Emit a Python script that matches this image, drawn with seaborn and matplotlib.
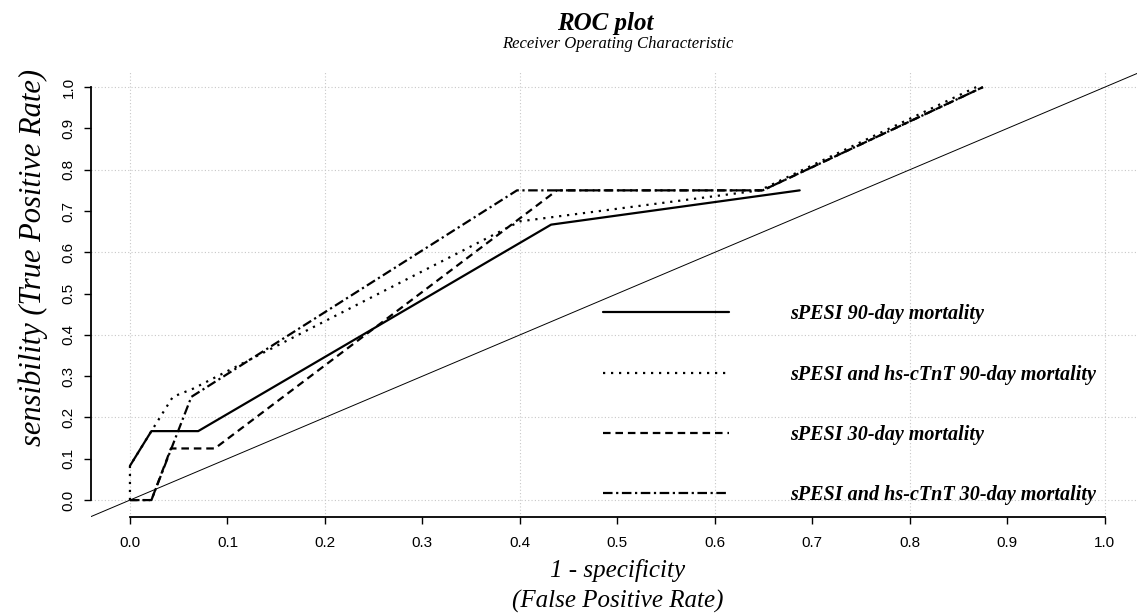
import matplotlib
matplotlib.use("Agg")
import matplotlib.pyplot as plt
import numpy as np
import seaborn as sns
from matplotlib import font_manager
from matplotlib.font_manager import FontProperties

# ROC curves (1 - specificity, sensitivity)
fpr_spesi_90 = [0.0, 0.022, 0.070, 0.432, 0.687]
tpr_spesi_90 = [0.083, 0.167, 0.167, 0.667, 0.750]

fpr_combo_90 = [0.0, 0.0, 0.022, 0.044, 0.065, 0.400, 0.646, 0.868]
tpr_combo_90 = [0.0, 0.083, 0.167, 0.250, 0.270, 0.675, 0.750, 1.000]

fpr_spesi_30 = [0.0, 0.022, 0.042, 0.087, 0.438, 0.649, 0.875]
tpr_spesi_30 = [0.0, 0.0, 0.125, 0.125, 0.750, 0.750, 1.000]

fpr_combo_30 = [0.0, 0.022, 0.063, 0.397, 0.649, 0.875]
tpr_combo_30 = [0.0, 0.0, 0.250, 0.750, 0.750, 1.000]

labels = [
    "sPESI 90-day mortality",
    "sPESI and hs-cTnT 90-day mortality",
    "sPESI 30-day mortality",
    "sPESI and hs-cTnT 30-day mortality",
]
tick_values = [0.0, 0.1, 0.2, 0.3, 0.4, 0.5, 0.6, 0.7, 0.8, 0.9, 1.0]
grid_values = [0.0, 0.2, 0.4, 0.6, 0.8, 1.0]

installed = {f.name for f in font_manager.fontManager.ttflist}
sans = "Liberation Sans Narrow" if "Liberation Sans Narrow" in installed else "Liberation Sans"
serif = "Liberation Serif"

sns.set_style("white")
plt.rcParams["font.family"] = [serif, "DejaVu Serif"]
plt.rcParams["text.color"] = "black"

fig = plt.figure(figsize=(11.37, 6.15), dpi=100)
ax = fig.add_axes([0.080, 0.160, 0.926, 0.7252])

series = [
    (fpr_spesi_90, tpr_spesi_90, "-"),
    (fpr_combo_90, tpr_combo_90, (0, (1, 2.6))),
    (fpr_spesi_30, tpr_spesi_30, (0, (3.4, 2.2))),
    (fpr_combo_30, tpr_combo_30, (0, (4.3, 1.6, 1, 1.6))),
]
handles = []
for (x, y, ls), lab in zip(series, labels):
    sns.lineplot(x=x, y=y, sort=False, estimator=None, color="black",
                 linewidth=1.6, linestyle=ls, legend=False, ax=ax)
    handles.append(ax.get_lines()[-1])

# chance diagonal
ax.axline((0, 0), slope=1, color="black", linewidth=0.7)

ax.set_xlim(-0.04, 1.04)
ax.set_ylim(-0.04, 1.04)

for side in ["top", "right"]:
    ax.spines[side].set_visible(False)
for side in ["left", "bottom"]:
    ax.spines[side].set_bounds(0, 1)
    ax.spines[side].set_linewidth(1.3)
    ax.spines[side].set_color("black")

ax.set_xticks(tick_values)
ax.set_yticks(tick_values)
ax.set_xticklabels([f"{v:.1f}" for v in tick_values], fontfamily=sans, fontsize=11)
ax.set_yticklabels([f"{v:.1f}" for v in tick_values], fontfamily=sans, fontsize=11,
                   rotation=90, va="center")
ax.tick_params(axis="both", which="major", direction="out", length=5, width=1,
               color="black", labelcolor="black")
ax.tick_params(axis="x", pad=9)
ax.tick_params(axis="y", pad=6)
ax.tick_params(left=True, bottom=True)

# dotted grid every 0.2 (kept even where it coincides with major ticks)
ax.xaxis.remove_overlapping_locs = False
ax.yaxis.remove_overlapping_locs = False
ax.set_xticks(grid_values, minor=True)
ax.set_yticks(grid_values, minor=True)
ax.tick_params(which="minor", length=0)
ax.grid(False)
ax.grid(which="minor", color="#c8c8c8", linestyle=(0, (1, 2)), linewidth=0.8)
ax.set_axisbelow(True)
ax.set_xlabel("")
ax.set_ylabel("")

leg_font = FontProperties(family=serif, weight="bold", style="italic", size=14.5)
ax.legend(handles, labels, loc="upper left", bbox_to_anchor=(0.530, 0.505),
          bbox_transform=fig.transFigure, frameon=False, prop=leg_font,
          handlelength=6.3, handletextpad=3.0, labelspacing=2.0,
          borderpad=0, borderaxespad=0, labelcolor="black")

fig.text(0.532, 0.962, "ROC plot", ha="center", va="center", fontsize=18,
         fontweight="bold", fontstyle="italic", color="black")
fig.text(0.543, 0.928, "Receiver Operating Characteristic", ha="center", va="center",
         fontsize=12, fontstyle="italic", color="black")
fig.text(0.543, 0.072, "1 - specificity", ha="center", va="center", fontsize=18,
         fontstyle="italic", color="black")
fig.text(0.543, 0.022, "(False Positive Rate)", ha="center", va="center", fontsize=18,
         fontstyle="italic", color="black")
fig.text(0.029, 0.582, "sensibility (True Positive Rate)", ha="center", va="center",
         rotation=90, fontsize=22, fontstyle="italic", color="black")

fig.savefig("out.png", dpi=100)
